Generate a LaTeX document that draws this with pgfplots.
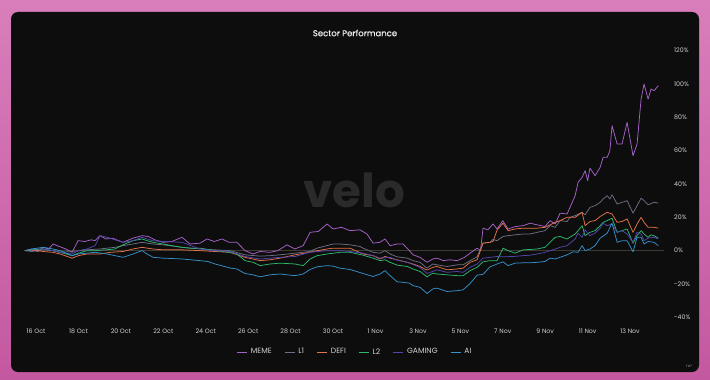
\documentclass[border=0pt]{standalone}
\usepackage{fontspec}
\setmainfont{Poppins}
\newfontfamily\titlefont[FakeBold=0.6]{Poppins}
\usepackage{pgfplots}
\pgfplotsset{compat=1.18}
\definecolor{meme}{HTML}{A862CC}
\definecolor{lone}{HTML}{6E6F84}
\definecolor{defi}{HTML}{E6734A}
\definecolor{ltwo}{HTML}{2CB96E}
\definecolor{gaming}{HTML}{5146AC}
\definecolor{ai}{HTML}{3590CC}
\definecolor{panel}{HTML}{0D0D0D}
\definecolor{ticktxt}{HTML}{D2D2D2}
\begin{document}
\begin{tikzpicture}[x=1bp,y=1bp]
\shade[top color={rgb,255:red,217;green,126;blue,187}, bottom color={rgb,255:red,196;green,88;blue,160}] (0,0) rectangle (710,379);
\fill[panel, rounded corners=7bp] (11,7) rectangle (699,367);
\node[font=\titlefont\fontsize{8.5}{10}\selectfont, text={rgb,255:red,238;green,238;blue,238}] at (355,346) {Sector Performance};
\node[font=\fontsize{47}{50}\bfseries\selectfont, text={rgb,255:red,42;green,42;blue,42}] at (354,189) {velo};
\node[font=\fontsize{4}{5}\selectfont, text={rgb,255:red,190;green,190;blue,190}] at (689,13) {<v>};
\begin{axis}[
  at={(23.3bp,61.7bp)}, anchor=south west,
  scale only axis, width=640.7bp, height=266.6bp,
  xmin=-0.6, xmax=29.6, ymin=-40, ymax=120,
  axis line style={draw=none}, major tick length=0pt, tick style={draw=none},
  xtick={0,2,...,28},
  xticklabels={16 Oct,18 Oct,20 Oct,22 Oct,24 Oct,26 Oct,28 Oct,30 Oct,1 Nov,3 Nov,5 Nov,7 Nov,9 Nov,11 Nov,13 Nov},
  ytick={-40,-20,0,20,40,60,80,100,120},
  yticklabels={-40\%,-20\%,0\%,20\%,40\%,60\%,80\%,100\%,120\%},
  yticklabel pos=right,
  ticklabel style={font=\fontsize{6.3}{7}\selectfont, text=ticktxt},
  xticklabel style={anchor=center, yshift=-13.7bp},
  yticklabel style={anchor=west, inner sep=0pt, xshift=10bp},
  legend columns=6,
  legend style={at={(0.5177,-0.130)}, anchor=center, draw=none, fill=none,
    font=\fontsize{7.6}{8}\selectfont, text=ticktxt,
    /tikz/every even column/.append style={column sep=10.5bp},
    /tikz/every odd column/.append style={column sep=1.5bp}},
  legend image code/.code={\draw[#1, line width=0.8bp] (0bp,0bp) -- (10bp,0bp);},
  every axis plot/.append style={line width=0.75bp, line join=round},
  clip=false,
]
\addplot[draw={rgb,255:red,62;green,60;blue,50}, line width=0.5bp, forget plot] coordinates {(-0.55,0) (29.6,0)};
\addplot[meme] coordinates {(-0.52,0) (-0.2,0.5) (0.1,-0.5) (0.33,2) (0.6,1) (0.8,4) (1.1,2.5) (1.4,1) (1.7,-1) (1.98,6) (2.3,5.5) (2.6,6.5) (2.78,6) (3.02,9) (3.3,7) (3.6,7.5) (4.1,5) (4.57,7.5) (5.0,9) (5.3,8.5) (5.6,6.5) (5.99,5) (6.4,5.5) (6.88,8) (7.26,4) (7.73,4.5) (8.06,7) (8.4,5.5) (8.77,7) (9.1,5) (9.47,5) (9.85,0) (10.23,-2) (10.56,-0.5) (11.03,-1) (11.4,0) (11.83,3.5) (12.2,1) (12.59,3) (12.92,11) (13.3,11.5) (13.72,16) (14.0,13) (14.4,14) (14.8,12) (15.27,12.5) (15.6,10) (15.89,4.5) (16.2,5) (16.45,7) (16.69,3) (17.02,4) (17.3,4) (17.6,0) (17.77,-2.5) (18.1,-4) (18.43,-7) (18.7,-5) (18.9,-4.5) (19.2,-6) (19.5,-5.5) (19.85,-6) (20.2,-4) (20.46,-1.5) (20.79,1.5) (20.95,0) (21.07,13.5) (21.3,12.5) (21.54,16) (21.73,13) (22.0,18) (22.25,13) (22.6,14.5) (22.96,15) (23.29,16.5) (23.62,15.5) (23.99,14.5) (24.23,18) (24.47,16) (24.70,22.5) (25.03,22) (25.17,26) (25.41,33) (25.55,41) (25.74,44) (25.88,48) (26.0,42) (26.11,49.5) (26.35,45) (26.59,50) (26.73,56) (26.92,56) (27.05,60) (27.15,75) (27.39,64) (27.62,64) (27.86,77) (28.14,57) (28.33,64) (28.52,91) (28.66,100) (28.85,91) (28.99,97) (29.13,96) (29.33,99)};
\addlegendentry{MEME}
\addplot[lone] coordinates {(-0.52,0) (-0.2,-0.5) (0.33,0.5) (0.8,0) (1.13,-1) (1.7,-0.5) (2.4,0.5) (3.0,1) (3.72,2) (4.1,3) (4.57,4) (5.0,5) (5.5,4) (6.0,3.5) (6.88,2) (7.73,1) (8.44,0.5) (9.14,0) (9.85,-2.5) (10.56,-3.3) (11.03,-3) (11.5,-2.5) (12.21,-1.5) (12.9,-0.5) (13.25,1.5) (14.0,4) (14.33,4) (14.8,3.5) (15.27,2.5) (15.41,1.5) (15.89,-1) (16.22,-1.5) (16.45,0) (16.69,-2) (17.02,-3.7) (17.5,-4.5) (17.77,-6) (18.1,-7) (18.43,-10.5) (18.7,-8) (18.9,-8.5) (19.37,-9.5) (19.85,-8.5) (20.13,-8.5) (20.46,-6) (20.79,-3.7) (21.07,4.5) (21.4,5) (21.54,6.7) (21.73,6) (22.01,8.5) (22.25,9) (22.58,9.5) (22.96,10) (23.29,10) (23.62,11) (23.99,12) (24.23,15) (24.47,14) (24.70,18) (25.03,17.5) (25.17,20) (25.41,21) (25.74,23) (25.88,21.5) (26.11,26) (26.35,27) (26.59,29) (26.73,31) (26.92,33) (27.05,31) (27.15,33.5) (27.39,28) (27.62,29) (27.86,30) (28.14,22.5) (28.33,27) (28.52,31.5) (28.66,30) (28.85,27.5) (29.13,29) (29.33,28.5)};
\addlegendentry{L1}
\addplot[defi] coordinates {(-0.52,0) (-0.2,0.5) (0.33,-0.5) (0.8,-1) (1.13,-2) (1.7,-4.5) (2.0,-3) (2.4,-2) (3.02,-2) (3.5,-1) (4.1,-0.5) (4.57,1) (5.0,2) (5.5,1) (6.0,0.5) (6.88,0.5) (7.73,0) (8.44,-0.5) (9.14,-1) (9.85,-4) (10.56,-6) (11.03,-5.5) (11.5,-4.5) (12.21,-2.5) (12.9,-1) (13.25,0) (13.72,1) (14.0,1.5) (14.8,1.5) (15.41,-2) (15.89,-3) (16.22,-5) (16.45,-3.5) (16.69,-4.5) (17.02,-5.5) (17.5,-7) (17.77,-8) (18.1,-9.5) (18.43,-11.7) (18.7,-10) (18.9,-9.5) (19.37,-11.5) (19.85,-11) (20.13,-10.5) (20.46,-7) (20.79,-5.5) (21.07,4.5) (21.4,5) (21.54,5.5) (21.73,12.3) (22.01,16.5) (22.25,12) (22.58,13) (22.96,13.5) (23.29,13.5) (23.62,13.5) (23.99,14) (24.23,15.5) (24.47,17) (24.70,18) (25.03,20) (25.41,20) (25.74,23) (25.88,15) (26.11,17.5) (26.35,18) (26.59,20.5) (26.92,23) (27.15,22) (27.39,17) (27.62,17.5) (27.86,19) (28.14,11) (28.33,16) (28.52,20) (28.66,17) (28.85,14) (29.13,14) (29.33,13.5)};
\addlegendentry{DEFI}
\addplot[ltwo] coordinates {(-0.52,0) (-0.2,0.5) (0.33,1) (0.8,0) (1.13,-1) (1.7,-3) (2.0,-1.5) (2.4,0) (2.78,0) (3.3,0.5) (3.72,1) (4.1,3.5) (4.57,6) (5.0,7) (5.23,6) (5.52,5) (5.99,4) (6.41,3) (6.88,2) (7.26,1.5) (7.73,1.5) (8.44,0) (9.14,-1) (9.47,-2) (9.85,-6) (10.23,-7) (10.56,-9) (11.03,-8) (11.5,-7.5) (12.21,-8) (12.59,-9) (12.92,-5) (13.25,-3) (13.72,-2) (14.33,-1) (14.8,-1) (15.41,-2.7) (15.89,-4.5) (16.22,-6) (16.45,-5.5) (16.69,-7) (17.02,-8.7) (17.5,-9.5) (17.77,-11) (18.1,-12.5) (18.43,-15.7) (18.7,-13.5) (18.9,-14) (19.37,-14.5) (19.85,-15) (20.13,-15) (20.46,-12) (20.79,-10) (21.07,-6.7) (21.4,-6) (21.73,-6) (22.01,1.5) (22.25,0) (22.58,-1.5) (22.96,0.5) (23.29,0.7) (23.62,1) (23.99,2) (24.23,5) (24.47,8) (24.70,8.5) (25.03,7) (25.41,10) (25.55,12) (25.74,15) (25.88,9) (26.11,11) (26.35,12) (26.59,15) (26.73,17) (26.92,18) (27.15,19.5) (27.39,11) (27.62,12) (27.86,13) (28.14,4.5) (28.33,9) (28.52,12) (28.66,10) (28.85,8) (28.99,9.5) (29.13,9) (29.33,7.5)};
\addlegendentry{L2}
\addplot[gaming] coordinates {(-0.52,0) (-0.2,1) (0.33,1) (0.8,0) (1.13,-1) (1.7,-2) (2.0,0) (2.4,1) (2.78,3) (3.02,9) (3.35,8) (3.72,6.5) (4.1,5) (4.57,6) (5.0,8) (5.5,6) (6.0,5.5) (6.88,5) (7.73,1) (8.44,0) (9.14,-0.5) (9.85,-3.5) (10.56,-5) (11.03,-4.5) (11.5,-4) (12.21,-3.5) (12.9,-1) (13.72,0) (14.33,0) (14.8,-0.5) (15.41,-1.5) (15.89,-3) (16.22,-4.5) (16.69,-4) (17.02,-5.7) (17.5,-7) (18.1,-10) (18.43,-13.7) (18.9,-11.5) (19.37,-13) (19.85,-12.5) (20.13,-13) (20.46,-10) (20.79,-8) (21.07,-4.5) (21.4,-4) (21.73,-3.5) (22.01,-3.7) (22.5,-3.5) (22.96,-3) (23.29,-2.7) (23.62,-2) (23.99,-1) (24.23,0) (24.47,1) (24.70,2) (25.03,3) (25.17,4.5) (25.41,7) (25.55,10.5) (25.74,8) (25.88,12.5) (26.11,9) (26.35,10.5) (26.59,13.5) (26.73,16.5) (26.92,15) (27.15,16) (27.39,11) (27.62,12) (27.86,10) (28.14,5) (28.33,11) (28.52,10) (28.66,6) (28.85,7.5) (29.13,8) (29.33,7)};
\addlegendentry{GAMING}
\addplot[ai] coordinates {(-0.52,0) (-0.2,1) (0.33,2) (0.8,1) (1.13,0) (1.7,-3) (2.0,-2) (2.78,-1) (3.35,-2) (4.1,-4) (4.57,-2) (5.0,0) (5.23,-2) (5.52,-4) (6.0,-4.5) (6.88,-5) (7.73,-6) (8.1,-6.5) (8.44,-8) (9.14,-10.4) (9.47,-11) (9.85,-13.7) (10.23,-14.5) (10.56,-15.7) (11.03,-14.5) (11.5,-14) (11.83,-14.5) (12.21,-15) (12.59,-14) (12.92,-11.3) (13.25,-9.7) (13.72,-9) (14.0,-9.3) (14.33,-10.5) (14.8,-11.3) (15.41,-13.7) (15.89,-15.5) (16.22,-14) (16.45,-12) (16.69,-15) (17.02,-18.7) (17.3,-19) (17.6,-19.5) (17.77,-21) (18.1,-22) (18.43,-25.7) (18.7,-23) (18.9,-22.5) (19.37,-24.5) (19.85,-24) (20.13,-23.5) (20.46,-19.7) (20.79,-14.7) (21.07,-14.2) (21.4,-9.7) (21.73,-8) (22.01,-6.7) (22.25,-9) (22.58,-7.5) (22.96,-7.3) (23.29,-7.3) (23.62,-7) (23.99,-6.5) (24.23,-4.5) (24.47,-5) (24.70,-4) (25.03,-2.5) (25.3,-0.7) (25.55,-1) (25.74,3) (25.88,0) (26.11,1) (26.35,3) (26.59,7.5) (26.92,10.5) (27.15,16.5) (27.39,5) (27.62,6) (27.86,6) (28.14,-0.7) (28.33,8) (28.52,8) (28.66,4) (28.85,5.5) (29.13,5) (29.33,3)};
\addlegendentry{AI}
\end{axis}
\pgfresetboundingbox
\path (0,0) rectangle (710,379);
\end{tikzpicture}
\end{document}
